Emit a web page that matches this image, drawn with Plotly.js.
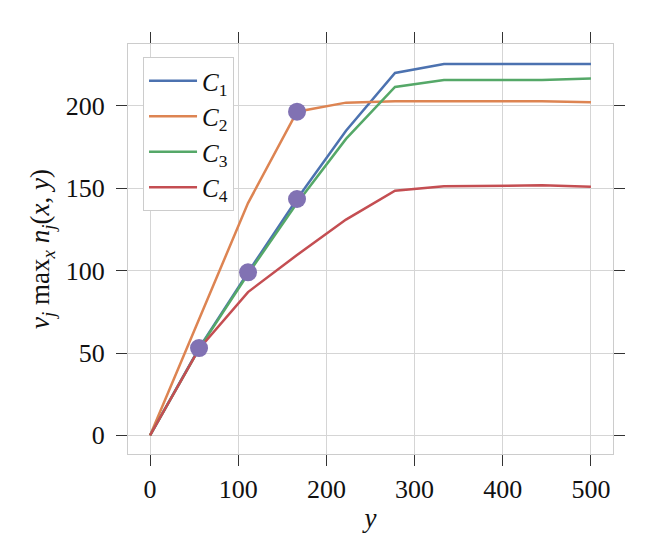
<!DOCTYPE html>
<html>
<head>
<meta charset="utf-8">
<script src="https://cdn.plot.ly/plotly-3.0.1.min.js"></script>
<style>html,body{margin:0;padding:0;background:#fff;}#chart{width:648px;height:549px;}</style>
</head>
<body>
<div id="chart"></div>
<script>
const xVals = [0, 55.56, 111.11, 166.67, 222.22, 277.78, 333.33, 388.89, 444.44, 500];
const c1 = [0, 53, 99, 143.5, 185, 220, 225.5, 225.5, 225.5, 225.5];
const c2 = [0, 71, 141, 196.5, 202, 202.8, 202.8, 203, 202.8, 202.3];
const c3 = [0, 52.5, 98, 141, 180, 211.5, 215.8, 215.8, 215.8, 216.7];
const c4 = [0, 52.5, 87, 109.5, 131, 148.5, 151.2, 151.3, 151.8, 151];
const markX = [55.56, 111.11, 166.67, 166.67];
const markY = [53, 99, 143.5, 196.5];
const seriesNames = ['<i>C</i><sub>1</sub>', '<i>C</i><sub>2</sub>', '<i>C</i><sub>3</sub>', '<i>C</i><sub>4</sub>'];
const seriesColors = ['#4c72b0', '#dd8452', '#55a868', '#c44e52'];
const xTicks = [0, 100, 200, 300, 400, 500];
const yTicks = [0, 50, 100, 150, 200];

const FONT = '"Liberation Serif", "Times New Roman", serif';
const ys = [c1, c2, c3, c4];
const traces = ys.map((y, i) => ({
  x: xVals, y: y, type: 'scatter', mode: 'lines', name: seriesNames[i],
  line: {color: seriesColors[i], width: 2.5}
}));
traces.push({
  x: markX, y: markY, type: 'scatter', mode: 'markers', showlegend: false,
  marker: {color: '#8172b3', size: 18}
});

const axisCommon = {
  showline: true, linecolor: '#cccccc', linewidth: 1, mirror: 'ticks',
  ticks: 'outside', ticklen: 11, tickwidth: 1, tickcolor: '#333333',
  showgrid: true, gridcolor: '#d5d5d5', gridwidth: 1, zeroline: false,
  tickfont: {family: FONT, size: 26, color: '#111'}
};

const layout = {
  width: 648, height: 549,
  margin: {l: 128, r: 35, t: 44, b: 94.5},
  paper_bgcolor: '#fff', plot_bgcolor: '#fff',
  font: {family: FONT, color: '#111'},
  xaxis: Object.assign({}, axisCommon, {
    range: [-25, 525], tickvals: xTicks, ticktext: xTicks.map(String),
    ticklabelstandoff: 1,
    title: {text: '<i>y</i>', font: {family: FONT, size: 27}, standoff: 4}
  }),
  yaxis: Object.assign({}, axisCommon, {
    range: [-11.3, 237.6], tickvals: yTicks, ticktext: yTicks.map(String),
    ticklabelstandoff: 6,
    title: {text: '<i>v</i><sub><i>j</i></sub> max<sub><i>x</i></sub> <i>n</i><sub><i>j</i></sub>(<i>x</i>, <i>y</i>)', font: {family: FONT, size: 27}, standoff: 8}
  }),
  legend: {
    x: 0.031, y: 0.968, xanchor: 'left', yanchor: 'top',
    bgcolor: '#fff', bordercolor: '#cccccc', borderwidth: 1,
    font: {family: FONT, size: 25, color: '#111'},
    itemwidth: 48,
    tracegroupgap: 0
  },
  showlegend: true
};

Plotly.newPlot('chart', traces, layout, {staticPlot: true, displayModeBar: false});
</script>
</body>
</html>
